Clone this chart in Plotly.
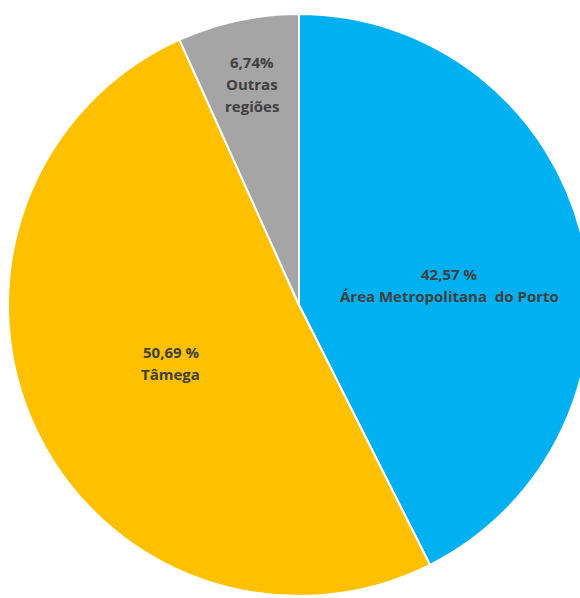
import plotly.graph_objects as go

# ---- data ----
regions = ["Área Metropolitana do Porto", "Tâmega", "Outras regiões"]
shares = [42.57, 50.69, 6.74]
pct_suffix = [" %", " %", "%"]
label_lines = [["Área Metropolitana\u00a0 do Porto"], ["Tâmega"], ["Outras", "regiões"]]
colors = ["#00B0F0", "#FFC000", "#A5A5A5"]

# ---- layout geometry (pixels) ----
W, H = 600, 598
cx, cy, r = 299, 305, 291
label_pos = [(449, 274), (171, 352), (252, 62)]
line_step = 22

fig = go.Figure(
    go.Pie(
        labels=regions,
        values=shares,
        sort=False,
        direction="clockwise",
        rotation=0,
        marker=dict(colors=colors, line=dict(color="white", width=2)),
        textinfo="none",
        hoverinfo="none",
        showlegend=False,
        domain=dict(x=[(cx - r) / W, (cx + r) / W], y=[(H - cy - r) / H, (H - cy + r) / H]),
    )
)

annotations = []
for i, v in enumerate(shares):
    pct = f"{v:.2f}".replace(".", ",") + pct_suffix[i]
    lines = [pct] + label_lines[i]
    px, py = label_pos[i]
    for j, t in enumerate(lines):
        annotations.append(
            dict(
                text=t,
                x=px / W,
                y=1 - (py + j * line_step) / H,
                xref="paper",
                yref="paper",
                xanchor="center",
                yanchor="middle",
                showarrow=False,
                font=dict(family="Open Sans", size=15, color="#404040", weight="bold"),
            )
        )

fig.update_layout(
    width=W,
    height=H,
    autosize=False,
    margin=dict(l=0, r=0, t=0, b=0),
    paper_bgcolor="white",
    plot_bgcolor="white",
    annotations=annotations,
)

fig.write_html(
    "out.html",
    config={"displayModeBar": False},
    post_script="document.body.style.margin='0';document.body.style.overflow='hidden';",
)
